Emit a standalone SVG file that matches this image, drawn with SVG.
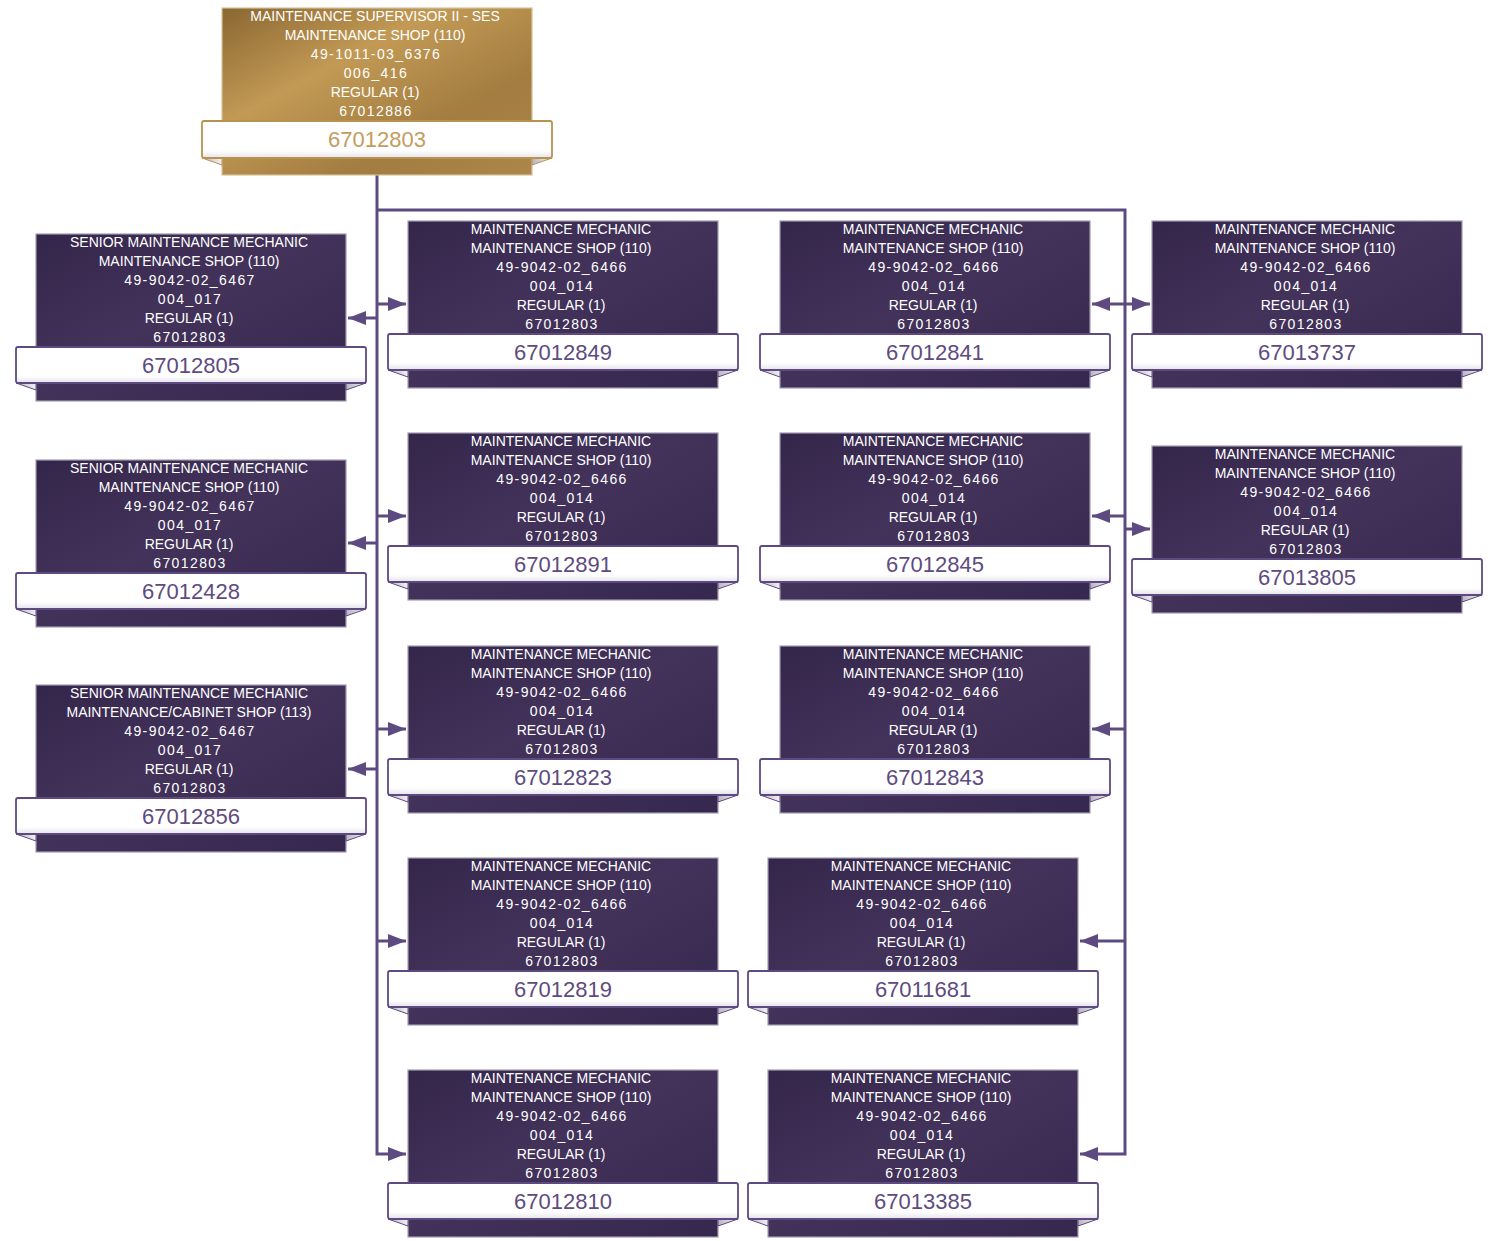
<svg xmlns="http://www.w3.org/2000/svg" width="1492" height="1241" viewBox="0 0 1492 1241">
<defs>
<linearGradient id="gDark" x1="0" y1="0" x2="1" y2="1">
<stop offset="0" stop-color="#34254a"/>
<stop offset="0.45" stop-color="#43335b"/>
<stop offset="1" stop-color="#36274e"/>
</linearGradient>
<linearGradient id="gGold" x1="0" y1="0" x2="1" y2="1">
<stop offset="0" stop-color="#8a6631"/>
<stop offset="0.35" stop-color="#c29a55"/>
<stop offset="0.7" stop-color="#a27c40"/>
<stop offset="1" stop-color="#ad8749"/>
</linearGradient>
<linearGradient id="gBand" x1="0" y1="0" x2="0" y2="1">
<stop offset="0" stop-color="#ffffff"/>
<stop offset="0.8" stop-color="#ffffff"/>
<stop offset="1" stop-color="#e6e3eb"/>
</linearGradient>
<linearGradient id="gFold" x1="0" y1="0" x2="1" y2="0">
<stop offset="0" stop-color="#b9b4c2"/>
<stop offset="1" stop-color="#f2f0f4"/>
</linearGradient>
<marker id="arr" markerUnits="userSpaceOnUse" markerWidth="18" markerHeight="14" refX="18" refY="7" orient="auto">
<path d="M0,0 L18,7 L0,14 Z" fill="#5d4a80"/>
</marker>
<style>
.box{fill:url(#gDark);stroke:#a49cb2;stroke-width:1.2}
.gbox{fill:url(#gGold);stroke:#d6c39a;stroke-width:1.2}
.band{fill:url(#gBand);stroke:#5d4a80;stroke-width:1.8}
.gband{fill:url(#gBand);stroke:#b8934f;stroke-width:1.8}
.fold{fill:url(#gFold);stroke:#5d4a80;stroke-width:1}
.gfold{fill:url(#gFold);stroke:#b8934f;stroke-width:1}
.t{font-family:"Liberation Sans",Arial,sans-serif;font-size:14px;fill:#ffffff;text-anchor:middle}
.tn{letter-spacing:1.4px}
.num{font-family:"Liberation Sans",Arial,sans-serif;font-size:22px;fill:#5e4b80;text-anchor:middle}
.gnum{font-family:"Liberation Sans",Arial,sans-serif;font-size:22px;fill:#c39c5f;text-anchor:middle}
.ln{fill:none;stroke:#5d4a80;stroke-width:3}
</style>
</defs>
<rect width="1492" height="1241" fill="#ffffff"/>

<g id="connectors">
<path class="ln" d="M377,175 V1154 H406" marker-end="url(#arr)"/>
<path class="ln" d="M377,210 H1125 V1154 H1080" marker-end="url(#arr)"/>
<path class="ln" d="M377,318 H348" marker-end="url(#arr)"/>
<path class="ln" d="M377,543 H348" marker-end="url(#arr)"/>
<path class="ln" d="M377,769 H348" marker-end="url(#arr)"/>
<path class="ln" d="M377,304 H406" marker-end="url(#arr)"/>
<path class="ln" d="M377,516 H406" marker-end="url(#arr)"/>
<path class="ln" d="M377,729 H406" marker-end="url(#arr)"/>
<path class="ln" d="M377,941 H406" marker-end="url(#arr)"/>
<path class="ln" d="M1125,304 H1092" marker-end="url(#arr)"/>
<path class="ln" d="M1125,516 H1092" marker-end="url(#arr)"/>
<path class="ln" d="M1125,729 H1092" marker-end="url(#arr)"/>
<path class="ln" d="M1125,941 H1080" marker-end="url(#arr)"/>
<path class="ln" d="M1125,304 H1150" marker-end="url(#arr)"/>
<path class="ln" d="M1125,529 H1150" marker-end="url(#arr)"/>
</g>

<g id="n67012803" transform="translate(202,8)">
<rect class="gbox" x="20" y="0" width="310" height="167"/>
<path class="gfold" d="M0,150 L20,150 L20,157 Z"/>
<path class="gfold" d="M350,150 L330,150 L330,157 Z"/>
<rect class="gband" x="0" y="113" width="350" height="37" rx="2"/>
<text class="t" x="173" y="13">MAINTENANCE SUPERVISOR II - SES</text>
<text class="t" x="173" y="32">MAINTENANCE SHOP (110)</text>
<text class="t tn" x="174" y="51">49-1011-03_6376</text>
<text class="t tn" x="174" y="70">006_416</text>
<text class="t" x="173" y="89">REGULAR (1)</text>
<text class="t tn" x="174" y="108">67012886</text>
<text class="gnum" x="175" y="139">67012803</text>
</g>

<g id="n67012805" transform="translate(16,234)">
<rect class="box" x="20" y="0" width="310" height="167"/>
<path class="fold" d="M0,149 L20,149 L20,156 Z"/>
<path class="fold" d="M350,149 L330,149 L330,156 Z"/>
<rect class="band" x="0" y="113" width="350" height="36" rx="2"/>
<text class="t" x="173" y="13">SENIOR MAINTENANCE MECHANIC</text>
<text class="t" x="173" y="32">MAINTENANCE SHOP (110)</text>
<text class="t tn" x="174" y="51">49-9042-02_6467</text>
<text class="t tn" x="174" y="70">004_017</text>
<text class="t" x="173" y="89">REGULAR (1)</text>
<text class="t tn" x="174" y="108">67012803</text>
<text class="num" x="175" y="139">67012805</text>
</g>

<g id="n67012428" transform="translate(16,460)">
<rect class="box" x="20" y="0" width="310" height="167"/>
<path class="fold" d="M0,149 L20,149 L20,156 Z"/>
<path class="fold" d="M350,149 L330,149 L330,156 Z"/>
<rect class="band" x="0" y="113" width="350" height="36" rx="2"/>
<text class="t" x="173" y="13">SENIOR MAINTENANCE MECHANIC</text>
<text class="t" x="173" y="32">MAINTENANCE SHOP (110)</text>
<text class="t tn" x="174" y="51">49-9042-02_6467</text>
<text class="t tn" x="174" y="70">004_017</text>
<text class="t" x="173" y="89">REGULAR (1)</text>
<text class="t tn" x="174" y="108">67012803</text>
<text class="num" x="175" y="139">67012428</text>
</g>

<g id="n67012856" transform="translate(16,685)">
<rect class="box" x="20" y="0" width="310" height="167"/>
<path class="fold" d="M0,149 L20,149 L20,156 Z"/>
<path class="fold" d="M350,149 L330,149 L330,156 Z"/>
<rect class="band" x="0" y="113" width="350" height="36" rx="2"/>
<text class="t" x="173" y="13">SENIOR MAINTENANCE MECHANIC</text>
<text class="t" x="173" y="32">MAINTENANCE/CABINET SHOP (113)</text>
<text class="t tn" x="174" y="51">49-9042-02_6467</text>
<text class="t tn" x="174" y="70">004_017</text>
<text class="t" x="173" y="89">REGULAR (1)</text>
<text class="t tn" x="174" y="108">67012803</text>
<text class="num" x="175" y="139">67012856</text>
</g>

<g id="n67012849" transform="translate(388,221)">
<rect class="box" x="20" y="0" width="310" height="167"/>
<path class="fold" d="M0,149 L20,149 L20,156 Z"/>
<path class="fold" d="M350,149 L330,149 L330,156 Z"/>
<rect class="band" x="0" y="113" width="350" height="36" rx="2"/>
<text class="t" x="173" y="13">MAINTENANCE MECHANIC</text>
<text class="t" x="173" y="32">MAINTENANCE SHOP (110)</text>
<text class="t tn" x="174" y="51">49-9042-02_6466</text>
<text class="t tn" x="174" y="70">004_014</text>
<text class="t" x="173" y="89">REGULAR (1)</text>
<text class="t tn" x="174" y="108">67012803</text>
<text class="num" x="175" y="139">67012849</text>
</g>

<g id="n67012891" transform="translate(388,433)">
<rect class="box" x="20" y="0" width="310" height="167"/>
<path class="fold" d="M0,149 L20,149 L20,156 Z"/>
<path class="fold" d="M350,149 L330,149 L330,156 Z"/>
<rect class="band" x="0" y="113" width="350" height="36" rx="2"/>
<text class="t" x="173" y="13">MAINTENANCE MECHANIC</text>
<text class="t" x="173" y="32">MAINTENANCE SHOP (110)</text>
<text class="t tn" x="174" y="51">49-9042-02_6466</text>
<text class="t tn" x="174" y="70">004_014</text>
<text class="t" x="173" y="89">REGULAR (1)</text>
<text class="t tn" x="174" y="108">67012803</text>
<text class="num" x="175" y="139">67012891</text>
</g>

<g id="n67012823" transform="translate(388,646)">
<rect class="box" x="20" y="0" width="310" height="167"/>
<path class="fold" d="M0,149 L20,149 L20,156 Z"/>
<path class="fold" d="M350,149 L330,149 L330,156 Z"/>
<rect class="band" x="0" y="113" width="350" height="36" rx="2"/>
<text class="t" x="173" y="13">MAINTENANCE MECHANIC</text>
<text class="t" x="173" y="32">MAINTENANCE SHOP (110)</text>
<text class="t tn" x="174" y="51">49-9042-02_6466</text>
<text class="t tn" x="174" y="70">004_014</text>
<text class="t" x="173" y="89">REGULAR (1)</text>
<text class="t tn" x="174" y="108">67012803</text>
<text class="num" x="175" y="139">67012823</text>
</g>

<g id="n67012819" transform="translate(388,858)">
<rect class="box" x="20" y="0" width="310" height="167"/>
<path class="fold" d="M0,149 L20,149 L20,156 Z"/>
<path class="fold" d="M350,149 L330,149 L330,156 Z"/>
<rect class="band" x="0" y="113" width="350" height="36" rx="2"/>
<text class="t" x="173" y="13">MAINTENANCE MECHANIC</text>
<text class="t" x="173" y="32">MAINTENANCE SHOP (110)</text>
<text class="t tn" x="174" y="51">49-9042-02_6466</text>
<text class="t tn" x="174" y="70">004_014</text>
<text class="t" x="173" y="89">REGULAR (1)</text>
<text class="t tn" x="174" y="108">67012803</text>
<text class="num" x="175" y="139">67012819</text>
</g>

<g id="n67012810" transform="translate(388,1070)">
<rect class="box" x="20" y="0" width="310" height="167"/>
<path class="fold" d="M0,149 L20,149 L20,156 Z"/>
<path class="fold" d="M350,149 L330,149 L330,156 Z"/>
<rect class="band" x="0" y="113" width="350" height="36" rx="2"/>
<text class="t" x="173" y="13">MAINTENANCE MECHANIC</text>
<text class="t" x="173" y="32">MAINTENANCE SHOP (110)</text>
<text class="t tn" x="174" y="51">49-9042-02_6466</text>
<text class="t tn" x="174" y="70">004_014</text>
<text class="t" x="173" y="89">REGULAR (1)</text>
<text class="t tn" x="174" y="108">67012803</text>
<text class="num" x="175" y="139">67012810</text>
</g>

<g id="n67012841" transform="translate(760,221)">
<rect class="box" x="20" y="0" width="310" height="167"/>
<path class="fold" d="M0,149 L20,149 L20,156 Z"/>
<path class="fold" d="M350,149 L330,149 L330,156 Z"/>
<rect class="band" x="0" y="113" width="350" height="36" rx="2"/>
<text class="t" x="173" y="13">MAINTENANCE MECHANIC</text>
<text class="t" x="173" y="32">MAINTENANCE SHOP (110)</text>
<text class="t tn" x="174" y="51">49-9042-02_6466</text>
<text class="t tn" x="174" y="70">004_014</text>
<text class="t" x="173" y="89">REGULAR (1)</text>
<text class="t tn" x="174" y="108">67012803</text>
<text class="num" x="175" y="139">67012841</text>
</g>

<g id="n67012845" transform="translate(760,433)">
<rect class="box" x="20" y="0" width="310" height="167"/>
<path class="fold" d="M0,149 L20,149 L20,156 Z"/>
<path class="fold" d="M350,149 L330,149 L330,156 Z"/>
<rect class="band" x="0" y="113" width="350" height="36" rx="2"/>
<text class="t" x="173" y="13">MAINTENANCE MECHANIC</text>
<text class="t" x="173" y="32">MAINTENANCE SHOP (110)</text>
<text class="t tn" x="174" y="51">49-9042-02_6466</text>
<text class="t tn" x="174" y="70">004_014</text>
<text class="t" x="173" y="89">REGULAR (1)</text>
<text class="t tn" x="174" y="108">67012803</text>
<text class="num" x="175" y="139">67012845</text>
</g>

<g id="n67012843" transform="translate(760,646)">
<rect class="box" x="20" y="0" width="310" height="167"/>
<path class="fold" d="M0,149 L20,149 L20,156 Z"/>
<path class="fold" d="M350,149 L330,149 L330,156 Z"/>
<rect class="band" x="0" y="113" width="350" height="36" rx="2"/>
<text class="t" x="173" y="13">MAINTENANCE MECHANIC</text>
<text class="t" x="173" y="32">MAINTENANCE SHOP (110)</text>
<text class="t tn" x="174" y="51">49-9042-02_6466</text>
<text class="t tn" x="174" y="70">004_014</text>
<text class="t" x="173" y="89">REGULAR (1)</text>
<text class="t tn" x="174" y="108">67012803</text>
<text class="num" x="175" y="139">67012843</text>
</g>

<g id="n67011681" transform="translate(748,858)">
<rect class="box" x="20" y="0" width="310" height="167"/>
<path class="fold" d="M0,149 L20,149 L20,156 Z"/>
<path class="fold" d="M350,149 L330,149 L330,156 Z"/>
<rect class="band" x="0" y="113" width="350" height="36" rx="2"/>
<text class="t" x="173" y="13">MAINTENANCE MECHANIC</text>
<text class="t" x="173" y="32">MAINTENANCE SHOP (110)</text>
<text class="t tn" x="174" y="51">49-9042-02_6466</text>
<text class="t tn" x="174" y="70">004_014</text>
<text class="t" x="173" y="89">REGULAR (1)</text>
<text class="t tn" x="174" y="108">67012803</text>
<text class="num" x="175" y="139">67011681</text>
</g>

<g id="n67013385" transform="translate(748,1070)">
<rect class="box" x="20" y="0" width="310" height="167"/>
<path class="fold" d="M0,149 L20,149 L20,156 Z"/>
<path class="fold" d="M350,149 L330,149 L330,156 Z"/>
<rect class="band" x="0" y="113" width="350" height="36" rx="2"/>
<text class="t" x="173" y="13">MAINTENANCE MECHANIC</text>
<text class="t" x="173" y="32">MAINTENANCE SHOP (110)</text>
<text class="t tn" x="174" y="51">49-9042-02_6466</text>
<text class="t tn" x="174" y="70">004_014</text>
<text class="t" x="173" y="89">REGULAR (1)</text>
<text class="t tn" x="174" y="108">67012803</text>
<text class="num" x="175" y="139">67013385</text>
</g>

<g id="n67013737" transform="translate(1132,221)">
<rect class="box" x="20" y="0" width="310" height="167"/>
<path class="fold" d="M0,149 L20,149 L20,156 Z"/>
<path class="fold" d="M350,149 L330,149 L330,156 Z"/>
<rect class="band" x="0" y="113" width="350" height="36" rx="2"/>
<text class="t" x="173" y="13">MAINTENANCE MECHANIC</text>
<text class="t" x="173" y="32">MAINTENANCE SHOP (110)</text>
<text class="t tn" x="174" y="51">49-9042-02_6466</text>
<text class="t tn" x="174" y="70">004_014</text>
<text class="t" x="173" y="89">REGULAR (1)</text>
<text class="t tn" x="174" y="108">67012803</text>
<text class="num" x="175" y="139">67013737</text>
</g>

<g id="n67013805" transform="translate(1132,446)">
<rect class="box" x="20" y="0" width="310" height="167"/>
<path class="fold" d="M0,149 L20,149 L20,156 Z"/>
<path class="fold" d="M350,149 L330,149 L330,156 Z"/>
<rect class="band" x="0" y="113" width="350" height="36" rx="2"/>
<text class="t" x="173" y="13">MAINTENANCE MECHANIC</text>
<text class="t" x="173" y="32">MAINTENANCE SHOP (110)</text>
<text class="t tn" x="174" y="51">49-9042-02_6466</text>
<text class="t tn" x="174" y="70">004_014</text>
<text class="t" x="173" y="89">REGULAR (1)</text>
<text class="t tn" x="174" y="108">67012803</text>
<text class="num" x="175" y="139">67013805</text>
</g>
</svg>
